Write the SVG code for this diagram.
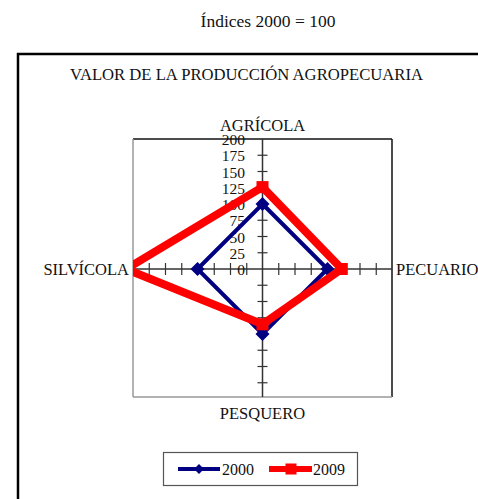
<svg xmlns="http://www.w3.org/2000/svg" width="478" height="499" viewBox="0 0 478 499" font-family="'Liberation Serif', 'Times New Roman', serif">
<style>
text{font-family:'Liberation Serif','Times New Roman',serif;fill:#111}
.lbl{font-size:16.5px}
.tk{font-size:15.5px;text-anchor:end}
.tick{stroke:#333;stroke-width:1.2}
.s2000{fill:none;stroke:#000080;stroke-width:4;stroke-linejoin:miter}
.s2009{fill:none;stroke:#ff0000;stroke-width:8;stroke-linejoin:miter}
</style>
<defs>
<clipPath id="plot"><rect x="133" y="139" width="259" height="258"/></clipPath>
<path id="dia" d="M0,-7 L7,0 L0,7 L-7,0 Z" fill="#000080"/>
<rect id="sq" x="-6" y="-6" width="12" height="12" fill="#ff0000"/>
</defs>
<rect width="478" height="499" fill="#fff"/>
<text x="268" y="27" font-size="17.5" text-anchor="middle">Índices 2000 = 100</text>
<rect id="frame" x="18" y="54" width="480" height="470" fill="none" stroke="#000" stroke-width="2.5"/>
<text id="title" x="70" y="80" class="lbl" textLength="353" lengthAdjust="spacingAndGlyphs">VALOR DE LA PRODUCCIÓN AGROPECUARIA</text>
<g id="plotarea">
<line x1="133" y1="139" x2="392" y2="139" stroke="#111" stroke-width="1.5"/>
<line x1="392" y1="139" x2="392" y2="397" stroke="#111" stroke-width="1.5"/>
<line x1="133" y1="139" x2="133" y2="397" stroke="#999" stroke-width="1.5"/>
<line x1="133" y1="397" x2="392" y2="397" stroke="#999" stroke-width="1.5"/>
</g>
<g id="axes">
<line x1="133" y1="269" x2="392" y2="269" stroke="#333" stroke-width="1.5"/>
<line x1="262.5" y1="139" x2="262.5" y2="397" stroke="#333" stroke-width="1.5"/>
<g class="tick">
<line x1="257.5" y1="155.25" x2="267.5" y2="155.25"/>
<line x1="257.5" y1="171.5" x2="267.5" y2="171.5"/>
<line x1="257.5" y1="187.75" x2="267.5" y2="187.75"/>
<line x1="257.5" y1="204" x2="267.5" y2="204"/>
<line x1="257.5" y1="220.25" x2="267.5" y2="220.25"/>
<line x1="257.5" y1="236.5" x2="267.5" y2="236.5"/>
<line x1="257.5" y1="252.75" x2="267.5" y2="252.75"/>
<line x1="257.5" y1="285.25" x2="267.5" y2="285.25"/>
<line x1="257.5" y1="301.5" x2="267.5" y2="301.5"/>
<line x1="257.5" y1="317.75" x2="267.5" y2="317.75"/>
<line x1="257.5" y1="334" x2="267.5" y2="334"/>
<line x1="257.5" y1="350.25" x2="267.5" y2="350.25"/>
<line x1="257.5" y1="366.5" x2="267.5" y2="366.5"/>
<line x1="257.5" y1="382.75" x2="267.5" y2="382.75"/>
<line x1="149.25" y1="263" x2="149.25" y2="275"/>
<line x1="165.5" y1="263" x2="165.5" y2="275"/>
<line x1="181.75" y1="263" x2="181.75" y2="275"/>
<line x1="198" y1="263" x2="198" y2="275"/>
<line x1="214.25" y1="263" x2="214.25" y2="275"/>
<line x1="230.5" y1="263" x2="230.5" y2="275"/>
<line x1="246.75" y1="263" x2="246.75" y2="275"/>
<line x1="278.75" y1="263" x2="278.75" y2="275"/>
<line x1="295" y1="263" x2="295" y2="275"/>
<line x1="311.25" y1="263" x2="311.25" y2="275"/>
<line x1="327.5" y1="263" x2="327.5" y2="275"/>
<line x1="343.75" y1="263" x2="343.75" y2="275"/>
<line x1="360" y1="263" x2="360" y2="275"/>
<line x1="376.25" y1="263" x2="376.25" y2="275"/>
</g>
<g id="ticklabels">
<text class="tk" x="245" y="145">200</text>
<text class="tk" x="245" y="161">175</text>
<text class="tk" x="245" y="177.5">150</text>
<text class="tk" x="245" y="193.5">125</text>
<text class="tk" x="245" y="210">100</text>
<text class="tk" x="245" y="226">75</text>
<text class="tk" x="245" y="242.5">50</text>
<text class="tk" x="245" y="258.5">25</text>
<text class="tk" x="245" y="275">0</text>
</g>
</g>
<g id="axislabels">
<text id="agricola" class="lbl" x="262.5" y="131" text-anchor="middle">AGRÍCOLA</text>
<text id="pecuario" class="lbl" x="396" y="275">PECUARIO</text>
<text id="silvicola" class="lbl" x="129" y="275" text-anchor="end">SILVÍCOLA</text>
<text id="pesquero" class="lbl" x="262.5" y="419" text-anchor="middle">PESQUERO</text>
</g>
<g id="series" clip-path="url(#plot)">
<g id="serie2000">
<polygon class="s2000" points="262.5,204 327.5,269 262.5,334 197.5,269"/>
<use href="#dia" x="262.5" y="204"/>
<use href="#dia" x="327.5" y="269"/>
<use href="#dia" x="262.5" y="334"/>
<use href="#dia" x="197.5" y="269"/>
</g>
<g id="serie2009">
<polygon class="s2009" points="262.5,187.1 341.8,269 262.5,324.3 126,269"/>
<use href="#sq" x="262.5" y="187.1"/>
<use href="#sq" x="341.8" y="269"/>
<use href="#sq" x="262.5" y="324.3"/>
</g>
</g>
<g id="legend">
<rect x="163.5" y="452.5" width="194" height="33" fill="#fff" stroke="#555" stroke-width="1.2"/>
<line x1="178" y1="469" x2="220" y2="469" stroke="#000080" stroke-width="4"/>
<path d="M199,464 L204,469 L199,474 L194,469 Z" fill="#000080"/>
<text x="222" y="474.5" font-size="16">2000</text>
<line x1="269" y1="469" x2="312" y2="469" stroke="#ff0000" stroke-width="6"/>
<rect x="285.5" y="463.5" width="11" height="11" fill="#ff0000"/>
<text x="313" y="474.5" font-size="16">2009</text>
</g>
</svg>
